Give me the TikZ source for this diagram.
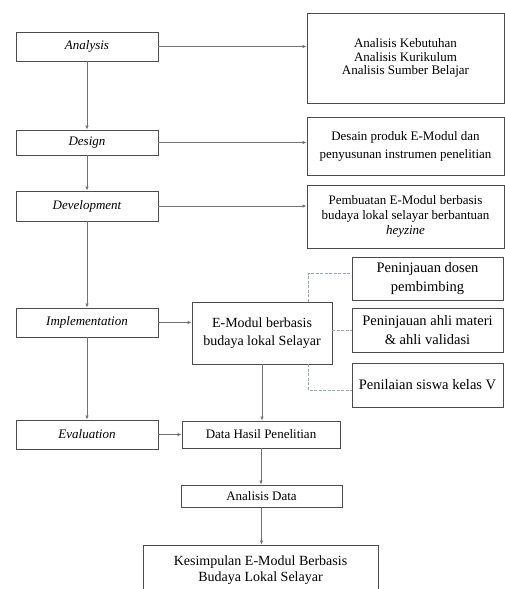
\documentclass[tikz,border=0pt]{standalone}
\usepackage{fontspec}
\setmainfont{Liberation Serif}
\usepackage{tikz}
\usetikzlibrary{arrows.meta,calc,positioning}

\begin{document}
\begin{tikzpicture}[
  x=1pt, y=-1pt,
  box/.style={draw=black!70, line width=0.9pt, align=center, inner sep=2pt,
    font=\fontsize{13}{15}\selectfont},
  stage/.style={box, minimum width=142pt, minimum height=29pt, font=\fontsize{13}{15}\selectfont\itshape},
  side/.style={box, minimum width=197pt},
  review/.style={box, minimum width=151pt, minimum height=43pt, font=\fontsize{14.5}{19}\selectfont},
  flow/.style={draw=black!55, line width=0.7pt, -{Latex[length=4pt,width=3.5pt]}},
  link/.style={draw=cyan!30!black!50, line width=0.7pt, dashed, dash pattern=on 3pt off 1.5pt}
]
\useasboundingbox (0,0) rectangle (505,589);

\node[stage] (analysis) at (87,46.5) {Analysis};
\node[stage, minimum height=25pt] (design) at (87,142.5) {Design};
\node[stage, minimum height=30pt] (develop) at (87,206) {Development};
\node[stage] (implement) at (87,322.5) {Implementation};
\node[stage] (evaluate) at (87,434.5) {Evaluation};

\node[side, minimum height=90pt, font=\fontsize{13}{13.5}\selectfont] (needs) at (405.5,58)
  {Analisis Kebutuhan\\Analisis Kurikulum\\Analisis Sumber Belajar};
\node[side, minimum height=58pt, font=\fontsize{13}{18}\selectfont] (designout) at (405.5,146)
  {Desain produk E-Modul dan\\penyusunan instrumen penelitian};
\node[side, minimum height=63pt] (devout) at (405.5,216.5)
  {Pembuatan E-Modul berbasis\\budaya lokal selayar berbantuan\\\textit{heyzine}};

\node[box, minimum width=140pt, minimum height=62pt, font=\fontsize{14}{18}\selectfont] (emodul) at (262,333)
  {E-Modul berbasis\\budaya lokal Selayar};
\node[review] (dosen) at (427.5,279) {Peninjauan dosen\\pembimbing};
\node[review, minimum height=44pt] (ahli) at (427.5,330) {Peninjauan ahli materi\\\& ahli validasi};
\node[review, minimum height=44pt] (siswa) at (427.5,385) {Penilaian siswa kelas V};

\node[box, minimum width=158pt, minimum height=27pt] (data) at (261,434.5) {Data Hasil Penelitian};
\node[box, minimum width=161pt, minimum height=22pt] (analisisdata) at (261.5,496) {Analisis Data};
\node[box, minimum width=235pt, minimum height=50pt, font=\fontsize{14}{16}\selectfont] (kesimpulan) at (260.5,570)
  {Kesimpulan E-Modul Berbasis\\Budaya Lokal Selayar};

\draw[flow] (analysis) -- (design);
\draw[flow] (design) -- (develop);
\draw[flow] (develop) -- (implement);
\draw[flow] (implement) -- (evaluate);

\draw[flow] (analysis.east) -- (analysis.east -| needs.west);
\draw[flow] (design.east) -- (design.east -| designout.west);
\draw[flow] (develop.east) -- (develop.east -| devout.west);
\draw[flow] (implement.east) -- (implement.east -| emodul.west);
\draw[flow] (evaluate.east) -- (data.west);

\coordinate (up) at ($(emodul.north east)+(-24,0)$);
\coordinate (down) at ($(emodul.south east)+(-24,0)$);
\draw[link] (up) |- ($(dosen.west)+(0,-6)$);
\draw[link] (emodul.east |- ahli.west) -- (ahli.west);
\draw[link] (down) |- ($(siswa.west)+(0,5)$);

\draw[flow] (emodul) -- (emodul.south |- data.north);
\draw[flow] (data) -- (data.south |- analisisdata.north);
\draw[flow] (analisisdata) -- (analisisdata.south |- kesimpulan.north);
\end{tikzpicture}
\end{document}
